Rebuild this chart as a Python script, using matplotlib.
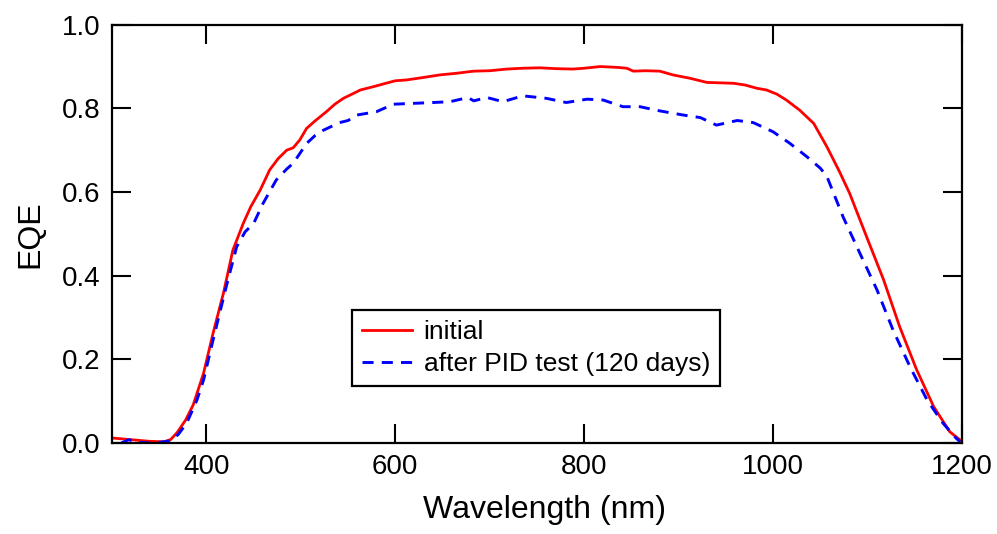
import matplotlib
matplotlib.use("Agg")
import matplotlib.pyplot as plt

plt.rcParams['font.family'] = ['Liberation Sans', 'DejaVu Sans']

# Initial EQE (red, solid)
wl_initial = [300, 320, 340, 355, 362, 369, 378, 386, 397, 407, 418, 428, 439, 447, 457,
              467, 476, 485, 492, 499, 506, 515, 527, 536, 545, 555, 563, 577, 590, 600,
              612, 630, 647, 665, 683, 700, 718, 735, 753, 770, 788, 800, 817, 835, 845,
              852, 865, 880, 894, 912, 930, 945, 958, 970, 983, 993, 1004, 1014, 1028,
              1043, 1057, 1070, 1081, 1099, 1117, 1134, 1152, 1170, 1187, 1198, 1200]
eqe_initial = [0.012, 0.008, 0.004, 0.003, 0.008, 0.025, 0.055, 0.091, 0.167, 0.262, 0.358,
               0.461, 0.525, 0.565, 0.605, 0.653, 0.680, 0.700, 0.706, 0.725, 0.752, 0.770,
               0.792, 0.810, 0.824, 0.835, 0.844, 0.852, 0.860, 0.866, 0.868, 0.874, 0.880,
               0.884, 0.889, 0.890, 0.894, 0.896, 0.897, 0.895, 0.894, 0.896, 0.900, 0.898,
               0.896, 0.889, 0.890, 0.889, 0.880, 0.872, 0.862, 0.861, 0.860, 0.856, 0.848,
               0.844, 0.834, 0.820, 0.796, 0.764, 0.708, 0.650, 0.597, 0.493, 0.390, 0.278,
               0.175, 0.087, 0.027, 0.007, 0.005]

# After PID test (blue, dashed)
wl_pid = [310, 318, 325, 340, 352, 361, 370, 379, 390, 397, 407, 421, 432, 441, 450, 460,
          474, 485, 492, 506, 515, 524, 541, 550, 559, 580, 598, 619, 640, 658, 677, 683,
          697, 714, 735, 760, 781, 803, 820, 841, 859, 880, 905, 923, 940, 962, 979, 1000,
          1018, 1036, 1050, 1057, 1074, 1092, 1110, 1127, 1145, 1163, 1180, 1194, 1198]
eqe_pid = [0.000, 0.008, 0.002, 0.000, 0.002, 0.005, 0.020, 0.047, 0.103, 0.151, 0.246,
           0.374, 0.469, 0.505, 0.525, 0.573, 0.629, 0.655, 0.669, 0.716, 0.735, 0.748,
           0.766, 0.771, 0.784, 0.792, 0.810, 0.812, 0.814, 0.816, 0.826, 0.818, 0.826,
           0.816, 0.830, 0.824, 0.814, 0.822, 0.820, 0.804, 0.804, 0.794, 0.784, 0.778,
           0.760, 0.771, 0.766, 0.744, 0.716, 0.684, 0.657, 0.637, 0.541, 0.453, 0.366,
           0.270, 0.182, 0.103, 0.047, 0.011, 0.003]

labels = ["initial", "after PID test (120 days)"]
x_ticks = [400, 600, 800, 1000, 1200]
y_ticks = [0.0, 0.2, 0.4, 0.6, 0.8, 1.0]

fig = plt.figure(figsize=(9.97, 5.34), dpi=100)
ax = fig.add_axes([0.1123, 0.1704, 0.8526, 0.7833])

ax.plot(wl_initial, eqe_initial, color='#ff0000', lw=2.0, label=labels[0])
ax.plot(wl_pid, eqe_pid, color='#0000ff', lw=2.1, ls=(0, (3.8, 2.8)), label=labels[1])

ax.set_xlim(300, 1200)
ax.set_ylim(0, 1.0)
ax.set_xticks(x_ticks)
ax.set_yticks(y_ticks)
ax.set_yticklabels([f"{v:.1f}" for v in y_ticks])
ax.tick_params(direction='in', length=13.5, width=1.5, top=True, right=True,
               labelsize=20, pad=8, colors='black')
for s in ax.spines.values():
    s.set_linewidth(1.6)

ax.set_xlabel("Wavelength (nm)", fontsize=23, labelpad=10.5, x=0.509)
ax.set_ylabel("EQE", fontsize=23, labelpad=12)

leg = ax.legend(loc='upper left', bbox_to_anchor=(0.282, 0.318), fontsize=19,
                frameon=True, fancybox=False, edgecolor='black', framealpha=1,
                handlelength=1.9, handletextpad=0.45, labelspacing=0.3,
                borderpad=0.38, borderaxespad=0)
leg.get_frame().set_linewidth(1.6)

fig.savefig("out.png", dpi=100)
